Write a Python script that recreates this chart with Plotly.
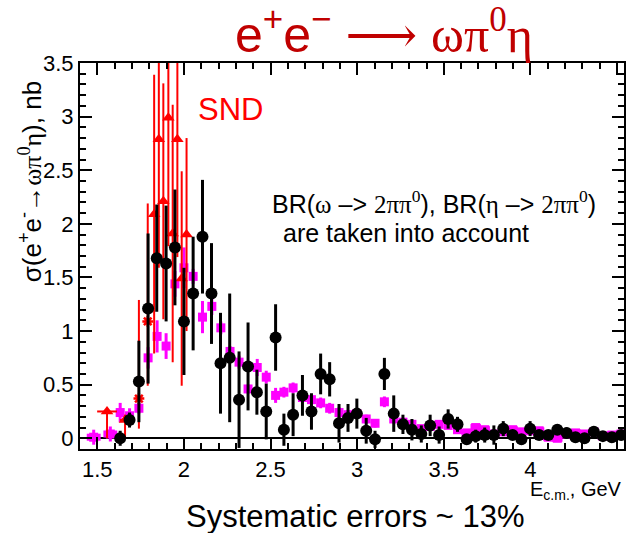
import plotly.graph_objects as go

# ---------------- data ----------------
black_x = [1.632, 1.686, 1.740, 1.793, 1.843, 1.897, 1.948, 2.000, 2.053, 2.107,
           2.159, 2.211, 2.264, 2.318, 2.370, 2.421, 2.475, 2.529, 2.577, 2.630,
           2.684, 2.736, 2.789, 2.841, 2.895, 2.947, 2.998, 3.052, 3.103, 3.157,
           3.211, 3.264, 3.316, 3.370, 3.421, 3.473, 3.525, 3.579, 3.632, 3.684,
           3.736, 3.789, 3.843, 3.897, 3.948, 3.998, 4.050, 4.103, 4.155, 4.209,
           4.260, 4.312, 4.366, 4.418, 4.470, 4.523]
black_y = [0.00, 0.17, 0.53, 1.21, 1.68, 1.63, 1.78, 1.09, 1.35, 1.88,
           1.35, 0.70, 0.75, 0.36, 0.67, 0.43, 0.25, 0.94, 0.08, 0.22,
           0.40, 0.25, 0.60, 0.55, 0.14, 0.19, 0.23, 0.07, -0.01, 0.60,
           0.23, 0.13, 0.08, 0.04, 0.12, 0.03, 0.18, 0.13, -0.01, 0.02,
           0.03, 0.03, 0.09, 0.03, -0.01, 0.09, 0.03, 0.03, 0.08, 0.05,
           0.01, 0.00, 0.06, 0.02, 0.01, 0.03]
black_err = [0.07, 0.07, 0.38, 0.70, 0.50, 0.54, 0.54, 0.50, 0.53, 0.53,
             0.47, 0.47, 0.60, 0.45, 0.41, 0.21, 0.26, 0.31, 0.15, 0.20,
             0.19, 0.17, 0.19, 0.16, 0.18, 0.13, 0.14, 0.12, 0.08, 0.15,
             0.17, 0.09, 0.10, 0.08, 0.10, 0.08, 0.09, 0.07, 0.03, 0.06,
             0.07, 0.09, 0.07, 0.04, 0.03, 0.07, 0.04, 0.03, 0.05, 0.05,
             0.03, 0.03, 0.03, 0.03, 0.03, 0.03]

mag_x = [1.479, 1.575, 1.632, 1.686, 1.740, 1.793, 1.845, 1.897, 1.948, 2.000,
         2.053, 2.107, 2.161, 2.213, 2.266, 2.318, 2.370, 2.423, 2.475, 2.529,
         2.577, 2.630, 2.684, 2.736, 2.789, 2.841, 2.895, 2.947, 2.998, 3.052,
         3.103, 3.157, 3.211, 3.264, 3.316, 3.370, 3.421, 3.473, 3.525, 3.579,
         3.632, 3.684, 3.736, 3.789, 3.843, 3.897, 3.948, 3.998, 4.050, 4.103,
         4.155, 4.209, 4.260, 4.312, 4.366, 4.418, 4.470, 4.523]
mag_y = [0.01, 0.04, 0.24, 0.21, 0.28, 0.75, 0.95, 0.86, 1.44, 1.59,
         1.51, 1.13, 1.23, 1.03, 0.81, 0.71, 0.46, 0.66, 0.57, 0.40,
         0.43, 0.47, 0.38, 0.36, 0.33, 0.28, 0.24, 0.22, 0.23, 0.18,
         0.14, 0.34, 0.18, 0.15, 0.13, 0.09, 0.11, 0.13, 0.12, 0.08,
         0.05, 0.10, 0.08, 0.04, 0.06, 0.08, 0.06, 0.07, 0.07, 0.01,
         0.00, 0.04, 0.05, 0.04, 0.06, 0.02, 0.03, 0.04]
mag_err = [0.07, 0.07, 0.09, 0.07, 0.05, 0.10, 0.15, 0.12, 0.12, 0.19,
           0.07, 0.15, 0.08, 0.06, 0.05, 0.06, 0.04, 0.08, 0.06, 0.07,
           0.05, 0.05, 0.05, 0.05, 0.05, 0.05, 0.05, 0.04, 0.04, 0.04,
           0.04, 0.05, 0.04, 0.04, 0.03, 0.03, 0.03, 0.03, 0.03, 0.03,
           0.03, 0.03, 0.03, 0.03, 0.03, 0.03, 0.03, 0.03, 0.03, 0.03,
           0.03, 0.03, 0.03, 0.03, 0.03, 0.03, 0.03, 0.03]
mag_xerr = [0.04, 0.04] + [0.0] * 38 + [0.03] * 18

snd_x = [1.556, 1.660, 1.828, 1.855, 1.881, 1.910, 1.935, 1.962, 1.987, 2.015]
snd_y = [0.25, 0.17, 2.09, 2.79, 2.21, 2.99, 1.91, 2.79, 1.49, 1.90]
snd_err_plus = [0.00, 0.05, 1.30, 1.20, 1.10, 1.20, 1.20, 1.10, 1.00, 0.90]
snd_err_minus = [0.25, 0.17, 1.30, 1.20, 1.10, 1.20, 1.20, 1.10, 1.00, 0.90]
snd_xerr = [0.057, 0.03, 0, 0, 0, 0, 0, 0, 0, 0]

star_x = [1.740, 1.791]
star_y = [0.37, 1.09]
star_err_plus = [0.92, 1.10]
star_err_minus = [0.28, 0.60]

# ---------------- figure ----------------
W, H = 627, 533
L, R, T, B = 80, 1, 63, 84
PW, PH = W - L - R, H - T - B


def px(p):
    return (p - L) / PW


def py(p):
    return (H - B - p) / PH


SANS = "Liberation Sans, Arial, sans-serif"

fig = go.Figure()

fig.add_trace(go.Scatter(
    x=mag_x, y=mag_y, mode="markers",
    marker=dict(symbol="square", size=9, color="#ff00ff"),
    error_y=dict(type="data", array=mag_err, color="#ff00ff", thickness=3, width=0),
    error_x=dict(type="data", array=mag_xerr, color="#ff00ff", thickness=7, width=0),
    showlegend=False))

fig.add_trace(go.Scatter(
    x=snd_x, y=snd_y, mode="markers",
    marker=dict(symbol="triangle-up", size=11, color="#ff0000"),
    error_y=dict(type="data", array=snd_err_plus, arrayminus=snd_err_minus,
                 color="#ff0000", thickness=2, width=0),
    error_x=dict(type="data", array=snd_xerr, color="#ff0000", thickness=2, width=0),
    showlegend=False))

fig.add_trace(go.Scatter(
    x=star_x, y=star_y, mode="markers",
    marker=dict(symbol="asterisk-open", size=9, color="#ff0000",
                line=dict(color="#ff0000", width=2.5)),
    error_y=dict(type="data", array=star_err_plus, arrayminus=star_err_minus,
                 color="#ff0000", thickness=2, width=0),
    showlegend=False))

fig.add_trace(go.Scatter(
    x=black_x, y=black_y, mode="markers",
    marker=dict(symbol="circle", size=12, color="black"),
    error_y=dict(type="data", array=black_err, color="black", thickness=3, width=0),
    showlegend=False))

axis_common = dict(
    showgrid=False, showline=True, linecolor="black", linewidth=2,
    mirror="allticks", ticks="inside", tickcolor="black", tickwidth=1.5,
    tickfont=dict(family=SANS, size=22, color="black"),
)

fig.update_xaxes(range=[1.40, 4.54], dtick=0.5, tick0=1.5, ticklen=12,
                 minor=dict(dtick=0.1, ticklen=6, ticks="inside", tickcolor="black", tickwidth=1.5),
                 zeroline=False, **axis_common)
fig.update_yaxes(range=[-0.1, 3.5], dtick=0.5, tick0=0, ticklen=12,
                 minor=dict(dtick=0.1, ticklen=6, ticks="inside", tickcolor="black", tickwidth=1.5),
                 zeroline=True, zerolinecolor="black", zerolinewidth=2,
                 **axis_common)

annotations = [
    dict(x=px(385), y=py(32), xref="paper", yref="paper",
         text=("e<sup>+</sup>e<sup>\u2212</sup> "
               "<span style='font-family:DejaVu Serif'>\u27f6</span> "
               "<span style='font-family:Liberation Serif'>\u03c9\u03c0<sup>0</sup>\u03b7</span>"),
         showarrow=False, xanchor="center", yanchor="middle",
         font=dict(family=SANS, size=50, color="#c00000")),
    dict(x=px(231), y=py(109), xref="paper", yref="paper", text="SND",
         showarrow=False, xanchor="center", yanchor="middle",
         font=dict(family=SANS, size=31, color="#ff0000")),
    dict(x=px(271), y=py(202), xref="paper", yref="paper",
         text=("BR(<span style='font-family:Liberation Serif'>\u03c9</span> \u2013> "
               "<span style='font-family:Liberation Serif'>2\u03c0\u03c0<sup>0</sup></span>), "
               "BR(<span style='font-family:Liberation Serif'>\u03b7</span> \u2013> "
               "<span style='font-family:Liberation Serif'>2\u03c0\u03c0<sup>0</sup></span>)"),
         showarrow=False, xanchor="left", yanchor="middle",
         font=dict(family=SANS, size=25, color="black")),
    dict(x=px(282), y=py(233), xref="paper", yref="paper",
         text="are taken into account",
         showarrow=False, xanchor="left", yanchor="middle",
         font=dict(family=SANS, size=25, color="black")),
    dict(x=px(30), y=py(182), xref="paper", yref="paper",
         text=("\u03c3(e<sup>+</sup>e<sup>-</sup>\u2192"
               "<span style='font-family:Liberation Serif'>\u03c9\u03c0<sup>0</sup>\u03b7</span>), nb"),
         textangle=-90, showarrow=False, xanchor="center", yanchor="middle",
         font=dict(family=SANS, size=26, color="black")),
    dict(x=px(626), y=py(490), xref="paper", yref="paper",
         text="E<sub>c.m.</sub>, GeV",
         showarrow=False, xanchor="right", yanchor="middle",
         font=dict(family=SANS, size=20, color="black")),
    dict(x=px(357), y=py(516), xref="paper", yref="paper",
         text="Systematic errors ~ 13%",
         showarrow=False, xanchor="center", yanchor="middle",
         font=dict(family=SANS, size=31, color="black")),
]

fig.update_layout(
    width=W, height=H,
    margin=dict(l=L, r=R, t=T, b=B, pad=0),
    paper_bgcolor="white", plot_bgcolor="white",
    annotations=annotations,
    showlegend=False,
)

fig.write_html("out.html")
